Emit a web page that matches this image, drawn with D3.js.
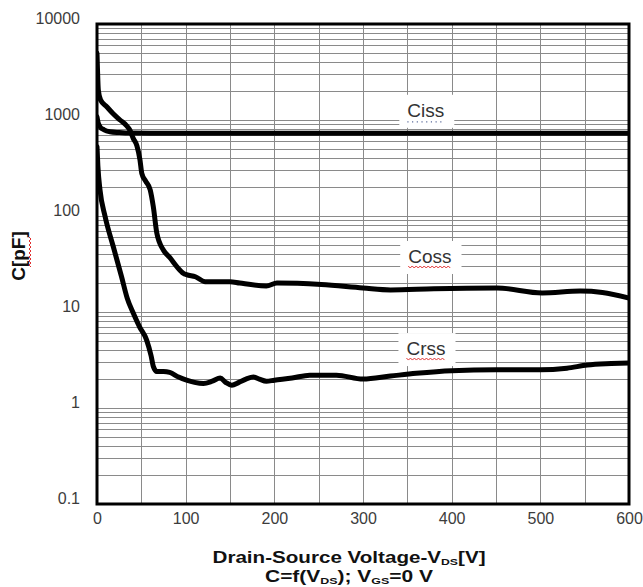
<!DOCTYPE html>
<html>
<head>
<meta charset="utf-8">
<script src="https://cdn.jsdelivr.net/npm/d3@7"></script>
<style>
  body { margin: 0; background: #fff; }
  svg { display: block; font-family: "Liberation Sans", Arial, sans-serif; }
</style>
</head>
<body>
<div id="chart"></div>
<script>
// values (V in volts, C in pF)
var cissV = [0, 1, 3.4, 8, 14.7, 25, 37, 60, 100, 200, 300, 400, 500, 600];
var cissC = [1080, 960, 850, 790, 755, 740, 730, 728, 728, 728, 728, 728, 728, 728];

var cossV = [0, 0.5, 1.5, 4, 11, 18, 26, 33, 37, 41, 45, 48.5, 50.5, 55, 60, 63.5, 67.5, 75, 82, 90, 97.5, 101, 111, 122, 150, 161, 191, 203, 253, 300, 331, 380, 451, 502, 545, 570, 600];
var cossC = [4950, 3500, 2050, 1620, 1375, 1170, 1000, 880, 787, 640, 540, 383, 278, 230, 187, 125, 66, 44, 37, 29.7, 25.3, 24.5, 23.3, 20.7, 20.7, 20, 18.7, 20, 19.3, 17.8, 17, 17.5, 17.8, 15.8, 16.5, 16, 14];

var crssV = [0, 1, 3.4, 9, 18.4, 27.7, 34, 41, 48, 56, 61, 63.6, 67.4, 75, 82, 92, 101, 110, 120, 130, 139, 145, 152, 160, 168, 176.5, 183, 191, 200, 220, 240, 270, 300, 331, 360, 400, 450, 500, 530, 553, 580, 600];
var crssC = [527, 330, 187, 100, 47.8, 23.3, 14, 9.7, 7, 5.1, 3.5, 2.7, 2.4, 2.4, 2.35, 2.1, 1.95, 1.85, 1.8, 1.9, 2.05, 1.85, 1.73, 1.85, 2.0, 2.1, 2.0, 1.9, 1.95, 2.05, 2.2, 2.2, 2.0, 2.15, 2.3, 2.45, 2.5, 2.5, 2.6, 2.8, 2.9, 2.95];

// curve labels and where they sit
var labelNames = ["Ciss", "Coss", "Crss"];
var labelV = [350, 351, 349];
var labelC = [1080, 32.4, 3.56];

var xTicks = [0, 100, 200, 300, 400, 500, 600];
var yTicks = [0.1, 1, 10, 100, 1000, 10000];
var yTickLabels = ["0.1", "1", "10", "100", "1000", "10000"];

var W = 643, H = 587;
var margin = { top: 24, right: 14, bottom: 83, left: 97 };
var width = W - margin.left - margin.right,
    height = H - margin.top - margin.bottom;

var svg = d3.select("#chart").append("svg")
    .attr("width", W)
    .attr("height", H);

var x = d3.scaleLinear().domain([0, 600]).range([margin.left, margin.left + width]);
var y = d3.scaleLog().domain([0.1, 10000]).range([margin.top + height, margin.top]);

// grid: every 50 V, and 1..9 per decade
var xGrid = d3.range(50, 600, 50);
var yGrid = [];
for (var e = -1; e < 4; e++) {
    for (var m = 2; m <= 10; m++) yGrid.push(m * Math.pow(10, e));
}

var grid = svg.append("g").attr("stroke", "#8a8a8a").attr("stroke-width", 1);
grid.selectAll("line.v")
    .data(xGrid).enter().append("line")
    .attr("x1", function (d) { return Math.round(x(d)) + 0.5; })
    .attr("x2", function (d) { return Math.round(x(d)) + 0.5; })
    .attr("y1", margin.top)
    .attr("y2", margin.top + height);
grid.selectAll("line.h")
    .data(yGrid).enter().append("line")
    .attr("x1", margin.left)
    .attr("x2", margin.left + width)
    .attr("y1", function (d) { return Math.round(y(d)) + 0.5; })
    .attr("y2", function (d) { return Math.round(y(d)) + 0.5; });

svg.append("clipPath").attr("id", "plot")
    .append("rect")
    .attr("x", margin.left).attr("y", margin.top)
    .attr("width", width).attr("height", height);

var line = d3.line()
    .x(function (d) { return x(d[0]); })
    .y(function (d) { return y(d[1]); })
    .curve(d3.curveMonotoneX);

var series = [[cissV, cissC], [cossV, cossC], [crssV, crssC]];
svg.append("g").attr("clip-path", "url(#plot)")
    .selectAll("path")
    .data(series).enter().append("path")
    .attr("d", function (s) { return line(d3.zip(s[0], s[1])); })
    .attr("fill", "none")
    .attr("stroke", "#000")
    .attr("stroke-width", 5)
    .attr("stroke-linejoin", "round")
    .attr("stroke-linecap", "round");

// frame
svg.append("rect")
    .attr("x", margin.left).attr("y", margin.top)
    .attr("width", width).attr("height", height)
    .attr("fill", "none")
    .attr("stroke", "#000")
    .attr("stroke-width", 3);

// red spell-check squiggle
var squiggle = function (x0, y0, len, vertical) {
    var p = d3.path(), step = 2, n = Math.floor(len / step);
    for (var i = 0; i <= n; i++) {
        var a = i * step, b = (i % 2 === 0) ? 0 : 2;
        if (vertical) { i === 0 ? p.moveTo(x0 + b, y0 + a) : p.lineTo(x0 + b, y0 + a); }
        else { i === 0 ? p.moveTo(x0 + a, y0 + b) : p.lineTo(x0 + a, y0 + b); }
    }
    svg.append("path").attr("d", p.toString())
        .attr("fill", "none").attr("stroke", "#e03030").attr("stroke-width", 1);
};

// curve labels on white boxes
labelNames.forEach(function (name, i) {
    var g = svg.append("g");
    var t = g.append("text")
        .attr("x", x(labelV[i]))
        .attr("y", y(labelC[i]))
        .attr("font-size", 19)
        .attr("fill", "#333")
        .text(name);
    var bb = t.node().getBBox();
    g.insert("rect", "text")
        .attr("x", bb.x - 8).attr("y", bb.y - 5)
        .attr("width", bb.width + 18).attr("height", bb.height + 12)
        .attr("fill", "#fff");
    var under = bb.y + bb.height + 1;
    if (name === "Ciss") {
        g.append("line")
            .attr("x1", bb.x).attr("x2", bb.x + bb.width)
            .attr("y1", under).attr("y2", under)
            .attr("stroke", "#5a6a9a").attr("stroke-width", 1.2)
            .attr("stroke-dasharray", "1.2,3.5");
    } else {
        squiggle(bb.x, under - 2, bb.width, false);
    }
});

// axes
var yAxis = svg.append("g")
    .attr("transform", "translate(" + margin.left + ",0)")
    .call(d3.axisLeft(y).tickValues(yTicks)
        .tickFormat(function (d, i) { return yTickLabels[i]; })
        .tickSize(0).tickPadding(17));
var xAxis = svg.append("g")
    .attr("transform", "translate(0," + (margin.top + height) + ")")
    .call(d3.axisBottom(x).tickValues(xTicks).tickSize(0).tickPadding(9));
[xAxis, yAxis].forEach(function (a) {
    a.select(".domain").remove();
    a.selectAll("text")
        .attr("font-family", "'Liberation Sans', Arial, sans-serif")
        .attr("font-size", 16)
        .attr("fill", "#3c3c3c");
});
yAxis.selectAll("text").attr("y", -6);

// y title
var yt = svg.append("text")
    .attr("transform", "translate(25," + (margin.top + 232) + ") rotate(-90)")
    .attr("text-anchor", "middle")
    .attr("font-size", 19)
    .attr("font-weight", "bold")
    .attr("fill", "#111")
    .text("C[pF]");
squiggle(29, margin.top + 213, 30, true);

// x title, two lines with subscripts, stretched to the reference widths
var addSubText = function (yPos, len, parts) {
    var t = svg.append("text")
        .attr("x", 349).attr("y", yPos)
        .attr("text-anchor", "middle")
        .attr("font-size", 16)
        .attr("font-weight", "bold")
        .attr("fill", "#111")
        .attr("textLength", len)
        .attr("lengthAdjust", "spacingAndGlyphs");
    parts.forEach(function (p) {
        var s = t.append("tspan").text(p[0]);
        if (p[1] === "sub") s.attr("font-size", 9.5).attr("dy", 2);
        if (p[1] === "up") s.attr("dy", -2);
    });
};
addSubText(563, 273, [["Drain-Source Voltage-V"], ["DS", "sub"], ["[V]", "up"]]);
addSubText(582, 168, [["C=f(V"], ["DS", "sub"], ["); V", "up"], ["GS", "sub"], ["=0 V", "up"]]);
</script>
</body>
</html>
